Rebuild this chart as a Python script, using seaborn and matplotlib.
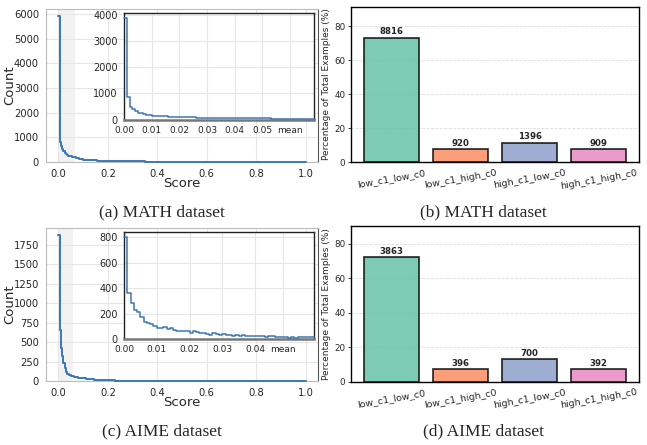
import matplotlib
matplotlib.use("Agg")
import matplotlib.pyplot as plt
import numpy as np
import seaborn as sns

# ---- data ----
bar_categories = ["low_c1_low_c0", "low_c1_high_c0", "high_c1_low_c0", "high_c1_high_c0"]
math_bar_counts = [8816, 920, 1396, 909]
aime_bar_counts = [3863, 396, 700, 392]

# main histograms: 200 bins of width 0.005 on [0, 1]
math_hist_counts = [
    5900, 830, 640, 520, 430, 370, 320, 290, 260, 240, 225, 210, 198, 185, 172, 160, 150, 140, 130, 120,
    100, 96, 90, 86, 82, 78, 74, 71, 68, 65, 62, 60, 58, 56, 54, 52, 50, 48, 47, 45,
    44, 42, 41, 40, 38, 37, 36, 35, 34, 33, 32, 31, 30, 30, 29, 28, 28, 27, 26, 26,
    25, 25, 24, 24, 23, 23, 22, 22, 21, 21, 20, 20, 19, 19, 19, 18, 18, 18, 17, 17,
    17, 16, 16, 16, 15, 15, 15, 15, 14, 14, 14, 14, 13, 13, 13, 13, 12, 12, 12, 12,
    12, 11, 11, 11, 11, 11, 10, 10, 10, 10, 10, 10, 9, 9, 9, 9, 9, 9, 9, 8,
    8, 8, 8, 8, 8, 8, 8, 7, 7, 7, 7, 7, 7, 7, 7, 6, 6, 6, 6, 6,
    6, 6, 6, 6, 6, 5, 5, 5, 5, 5, 5, 5, 5, 5, 5, 5, 4, 4, 4, 4,
    4, 4, 4, 4, 4, 4, 4, 4, 4, 4, 3, 3, 3, 3, 3, 3, 3, 3, 3, 3,
    3, 3, 3, 3, 3, 2, 2, 2, 2, 2, 2, 2, 2, 2, 2, 2, 2, 2, 2, 3,
]
aime_hist_counts = [
    1870, 660, 430, 318, 232, 168, 125, 98, 88, 80, 73, 68, 63, 60, 56, 52, 48, 45, 43, 40,
    38, 36, 34, 32, 30, 29, 27, 26, 24, 23, 22, 21, 20, 19, 18, 17, 16, 15, 14, 13,
    13, 12, 12, 11, 11, 11, 10, 10, 10, 9, 9, 9, 9, 8, 8, 8, 8, 8, 7, 7,
    7, 7, 7, 7, 6, 6, 6, 6, 6, 6, 6, 5, 5, 5, 5, 5, 5, 5, 5, 5,
    5, 4, 4, 4, 4, 4, 4, 4, 4, 4, 4, 4, 4, 3, 3, 3, 3, 3, 3, 3,
    3, 3, 3, 3, 3, 3, 3, 3, 3, 3, 3, 3, 2, 3, 3, 2, 3, 2, 2, 2,
    2, 2, 2, 2, 2, 2, 2, 2, 2, 2, 2, 2, 2, 2, 2, 2, 2, 2, 2, 2,
    2, 2, 2, 2, 1, 2, 2, 2, 1, 2, 2, 1, 2, 2, 1, 2, 1, 2, 1, 1,
    1, 1, 2, 1, 1, 1, 1, 1, 1, 1, 1, 1, 1, 1, 1, 1, 1, 1, 1, 1,
    1, 1, 1, 1, 1, 1, 1, 1, 1, 1, 1, 1, 1, 1, 1, 1, 1, 1, 1, 2,
]

# insets: bins of width 0.001 near zero
math_inset_counts = [
    3880, 850, 490, 420, 320, 260, 230, 200, 185, 170, 140, 135, 130, 125, 120, 115, 110, 105, 100, 95,
    90, 88, 85, 82, 80, 77, 75, 72, 70, 68, 65, 63, 62, 60, 58, 57, 55, 54, 53, 52,
    50, 49, 48, 47, 46, 45, 44, 43, 42, 41, 40, 40, 39, 38, 37, 37, 36, 35, 35, 34,
    33, 33, 32, 32, 31, 30, 30, 30, 29,
]
aime_inset_counts = [
    800, 360, 280, 230, 210, 170, 130, 125, 115, 100, 90, 85, 95, 80, 90, 70, 65, 63, 62, 60,
    50, 62, 55, 50, 45, 40, 35, 45, 42, 35, 38, 30, 28, 25, 28, 22, 30, 25, 22, 20,
    25, 20, 22, 18, 20, 22, 18, 12, 15, 15, 10, 12, 10, 15, 12, 12, 14, 14,
]
math_mean = 0.060
aime_mean = 0.0486
math_inset_xmax = 0.0686
aime_inset_xmax = 0.058

hist_color = "#3a78b5"
bar_colors = sns.color_palette("Set2", 4)

sns.set_style("whitegrid")
plt.rcParams["font.family"] = ["DejaVu Sans"]

fig = plt.figure(figsize=(6.47, 4.45), dpi=100)


def px_axes(x0, y0, x1, y1):
    W, H = 647, 445
    return fig.add_axes([x0 / W, 1 - y1 / H, (x1 - x0) / W, (y1 - y0) / H])


def step_hist(ax, counts, width, lw):
    n = len(counts)
    centers = (np.arange(n) + 0.5) * width
    sns.histplot(x=centers, weights=np.asarray(counts, dtype=float), binwidth=width,
                 binrange=(0, n * width), element="step", fill=False,
                 color=hist_color, linewidth=lw, ax=ax, zorder=3, clip_on=False)


def draw_hist(main_rect, inset_rect, counts, inset_counts, mean, xmax, yticks, inset_yticks, inset_xticks):
    ax = px_axes(*main_rect)
    ax.axvspan(0, xmax, color="#f2f2f2", zorder=0, lw=0)
    step_hist(ax, counts, 0.005, 1.4)
    ax.set_xlim(-0.05, 1.05)
    ax.set_ylim(0, max(counts) * 1.05)
    ax.set_xticks(np.arange(0, 1.01, 0.2))
    ax.set_yticks(yticks)
    ax.tick_params(labelsize=7.2, pad=1.5)
    ax.set_xlabel("Score", fontsize=9.5, labelpad=-1.5)
    ax.set_ylabel("Count", fontsize=9.5, labelpad=-1.5)
    ax.grid(color="#e6e6e6", lw=0.8)
    for s in ax.spines.values():
        s.set_color("#bbbbbb")
        s.set_linewidth(0.8)
    ax.spines["right"].set_color("#555555")

    ins = px_axes(*inset_rect)
    step_hist(ins, inset_counts, 0.001, 1.1)
    ins.set_xlim(0, xmax)
    ins.set_ylim(0, max(inset_counts) * 1.05)
    ins.set_xticks(list(inset_xticks) + [mean])
    ins.set_xticklabels([f"{t:.2f}" for t in inset_xticks] + ["mean"])
    ins.set_yticks(inset_yticks)
    ins.tick_params(axis="y", labelsize=7, pad=1)
    ins.tick_params(axis="x", labelsize=6.5, pad=1)
    ins.set_xlabel("")
    ins.set_ylabel("")
    ins.grid(color="#e6e6e6", lw=0.8)
    for s in ins.spines.values():
        s.set_color("#222222")
        s.set_linewidth(1.0)
    ins.spines["bottom"].set_color("#777777")
    ins.spines["bottom"].set_linewidth(1.8)


def draw_bars(rect, counts):
    ax = px_axes(*rect)
    pct = [100 * c / sum(counts) for c in counts]
    sns.barplot(x=bar_categories, y=pct, hue=bar_categories, palette=bar_colors, legend=False,
                saturation=1, width=0.8, edgecolor="black", linewidth=1.2, alpha=0.85,
                ax=ax, zorder=3)
    for cont, c in zip(ax.containers, counts):
        ax.bar_label(cont, labels=[str(c)], padding=1, fontsize=6.2, fontweight="bold")
    ax.set_xlim(-0.59, 3.59)
    ax.set_ylim(0, max(pct) * 1.25)
    ax.set_yticks([0, 20, 40, 60, 80])
    ax.set_ylabel("Percentage of Total Examples (%)", fontsize=6.5, labelpad=2.5)
    ax.tick_params(axis="y", labelsize=6.3, left=True, length=2.5, width=0.6, pad=1.5)
    ax.tick_params(axis="x", labelsize=6.8, pad=1)
    plt.setp(ax.get_xticklabels(), rotation=10)
    ax.grid(False)
    ax.yaxis.grid(True, linestyle="--", color="#dddddd", lw=0.6)
    for s in ax.spines.values():
        s.set_color("black")
        s.set_linewidth(1.0)


draw_hist((46, 9, 318, 162), (124, 13, 314, 119.5), math_hist_counts, math_inset_counts,
          math_mean, math_inset_xmax, range(0, 6001, 1000), range(0, 4001, 1000),
          [0.00, 0.01, 0.02, 0.03, 0.04, 0.05])
draw_hist((46, 228, 318, 381.3), (124, 232, 314, 339), aime_hist_counts, aime_inset_counts,
          aime_mean, aime_inset_xmax, range(0, 1751, 250), range(0, 801, 200),
          [0.00, 0.01, 0.02, 0.03, 0.04])
draw_bars((351, 6.7, 639.3, 162.3), math_bar_counts)
draw_bars((351, 226, 639.3, 381.7), aime_bar_counts)

captions = ["(a) MATH dataset", "(b) MATH dataset", "(c) AIME dataset", "(d) AIME dataset"]
cap_pos = [(162, 212), (483, 212), (162, 431), (483, 431)]
for t, (x, y) in zip(captions, cap_pos):
    fig.text(x / 647, 1 - y / 445, t, ha="center", va="center", fontsize=12.5,
             family=["Liberation Serif", "DejaVu Serif"])

fig.savefig("out.png", dpi=100)
